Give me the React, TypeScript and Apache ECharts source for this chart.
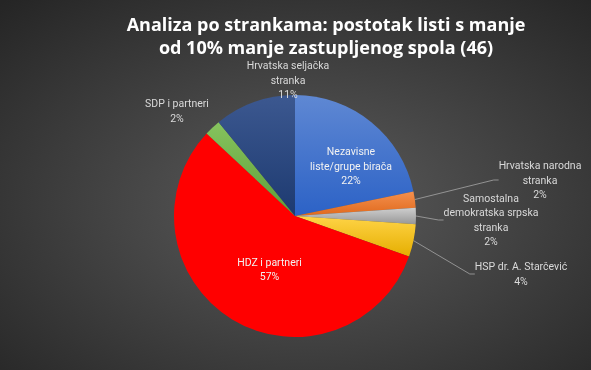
import React, { useEffect, useRef } from "react";
import * as echarts from "echarts";

// ---- data ----
const categories = [
  "Nezavisne liste/grupe birača",
  "Hrvatska narodna stranka",
  "Samostalna demokratska srpska stranka",
  "HSP dr. A. Starčević",
  "HDZ i partneri",
  "SDP i partneri",
  "Hrvatska seljačka stranka",
];
const labelLines = [
  ["Nezavisne", "liste/grupe birača"],
  ["Hrvatska narodna", "stranka"],
  ["Samostalna", "demokratska srpska", "stranka"],
  ["HSP dr. A. Starčević"],
  ["HDZ i partneri"],
  ["SDP i partneri"],
  ["Hrvatska seljačka", "stranka"],
];
const listCounts = [10, 1, 1, 2, 26, 1, 5];
const titleLines = [
  "Analiza po strankama: postotak listi s manje",
  "od 10% manje zastupljenog spola (46)",
];

// ---- style / layout ----
const W = 591;
const H = 370;
const CX = 295;
const CY = 216;
const R = 121;
const sliceColors = [
  ["#5f88d3", "#2c62c6"],
  ["#f4904e", "#e0691c"],
  ["#cfcfcf", "#979797"],
  ["#ffd447", "#e5ae00"],
  ["#ff0000", "#ff0000"],
  ["#86c35e", "#5f9e37"],
  ["#3c5890", "#1d3a70"],
];
const insideLabel = [true, false, false, false, true, false, false];
const showLeader = [false, true, true, true, false, false, false];
const labelOffsets = [
  [56, -50],
  [245, -36],
  [196, 4],
  [226, 58],
  [-25.5, 53.5],
  [-118, -105],
  [-7, -136],
];

export default function App() {
  const ref = useRef<HTMLDivElement>(null);
  useEffect(() => {
    if (!ref.current) return;
    const chart = echarts.init(ref.current, null, { renderer: "svg" });
    const data = categories.map((name, i) => ({
      name,
      value: listCounts[i],
      itemStyle: {
        color: new echarts.graphic.LinearGradient(0, 0, 0, 1, [
          { offset: 0, color: sliceColors[i][0] },
          { offset: 1, color: sliceColors[i][1] },
        ]),
      },
      label: {
        position: insideLabel[i] ? "inside" : "outside",
        color: insideLabel[i] ? "#f2f2f2" : "#d9d9d9",
      },
      labelLine: { show: showLeader[i] },
    }));
    chart.setOption({
      animation: false,
      backgroundColor: new echarts.graphic.RadialGradient(0.52, 0.55, 0.75, [
        { offset: 0, color: "#5c5c5c" },
        { offset: 1, color: "#252525" },
      ]),
      graphic: [
        {
          type: "text",
          x: 326,
          y: 13,
          style: {
            text: titleLines.join("\n"),
            fill: "#ffffff",
            font: 'bold 18px "Open Sans"',
            lineHeight: 22.5,
            align: "center",
            verticalAlign: "top",
            shadowColor: "rgba(0,0,0,0.7)",
            shadowBlur: 3,
            shadowOffsetX: 1,
            shadowOffsetY: 1,
          },
        },
      ],
      series: [
        {
          type: "pie",
          center: [CX, CY],
          radius: R,
          startAngle: 90,
          clockwise: true,
          avoidLabelOverlap: false,
          data,
          label: {
            show: true,
            fontFamily: "Roboto",
            fontSize: 10.5,
            lineHeight: 14.5,
            formatter: (p: any) =>
              [...labelLines[p.dataIndex], Math.round(p.percent) + "%"].join("\n"),
          },
          labelLine: {
            show: true,
            length: 10,
            length2: 5,
            lineStyle: { color: "#a6a6a6", width: 0.8 },
          },
          labelLayout: (p: any) => ({
            x: CX + labelOffsets[p.dataIndex][0],
            y: CY + labelOffsets[p.dataIndex][1],
            align: "center",
            verticalAlign: "middle",
          }),
        },
      ],
    });
    return () => chart.dispose();
  }, []);
  return (
    <div
      ref={ref}
      style={{ position: "fixed", left: 0, top: 0, width: W, height: H }}
    />
  );
}
